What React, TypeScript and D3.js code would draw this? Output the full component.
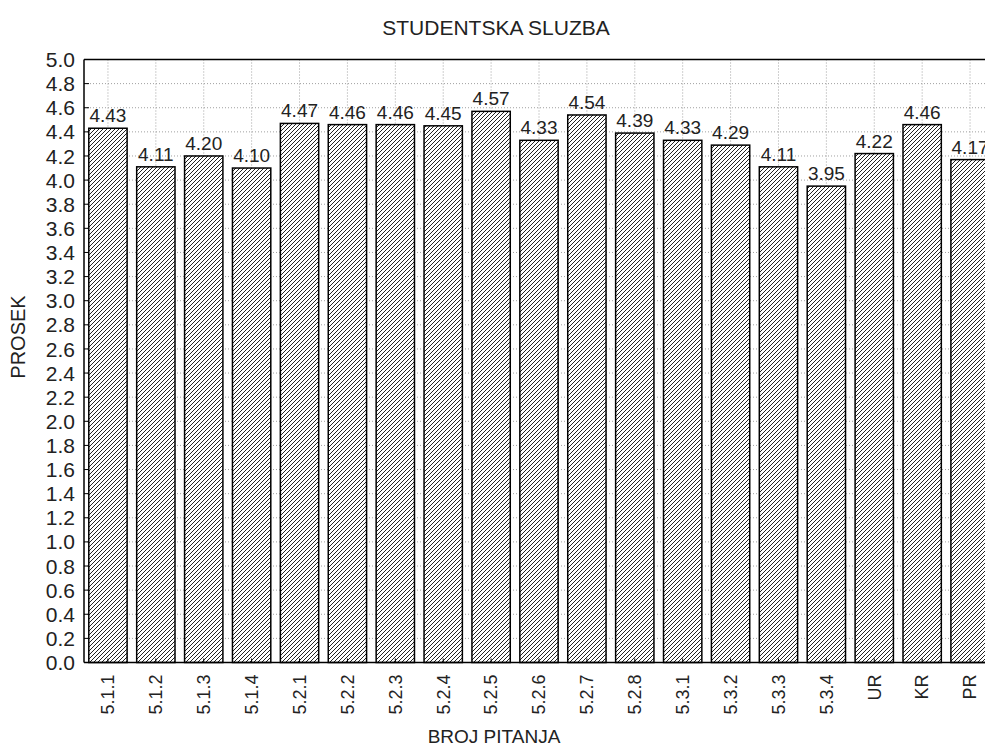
import * as d3 from 'd3';

const WIDTH = 985;
const HEIGHT = 749;
const MARGIN = { top: 59.5, left: 84, bottom: 86.5 };
const PLOT_RIGHT = 994; // plot runs off the right edge of the picture

const categories = ['5.1.1', '5.1.2', '5.1.3', '5.1.4', '5.2.1', '5.2.2', '5.2.3', '5.2.4', '5.2.5', '5.2.6', '5.2.7', '5.2.8', '5.3.1', '5.3.2', '5.3.3', '5.3.4', 'UR', 'KR', 'PR'];
const values = [4.43, 4.11, 4.2, 4.1, 4.47, 4.46, 4.46, 4.45, 4.57, 4.33, 4.54, 4.39, 4.33, 4.29, 4.11, 3.95, 4.22, 4.46, 4.17];
const yTicks = d3.range(0, 26).map((i) => i * 0.2);

const FONT = '"Liberation Sans", Arial, sans-serif';

export default function App() {
  const bottom = HEIGHT - MARGIN.bottom;

  const xScale = d3
    .scaleBand<string>()
    .domain(categories)
    .range([MARGIN.left, PLOT_RIGHT])
    .paddingInner(0.2)
    .paddingOuter(0.1);

  const yScale = d3.scaleLinear().domain([0, 5]).range([bottom, MARGIN.top]);

  const bw = xScale.bandwidth();
  const fmt = d3.format('.2f');

  return (
    <svg
      width={WIDTH}
      height={HEIGHT}
      style={{ position: 'absolute', left: 0, top: 0, background: '#fff' }}
      fontFamily={FONT}
    >
      <defs>
        <pattern id="hatch" patternUnits="userSpaceOnUse" width={4} height={4}>
          <rect width={4} height={4} fill="#fff" />
          <path d="M-1,1 l2,-2 M0,4 l4,-4 M3,5 l2,-2" stroke="#222" strokeWidth={1} />
        </pattern>
      </defs>

      {/* grid */}
      <g stroke="#a0a0a0" strokeWidth={1} strokeDasharray="1,2">
        {yTicks.slice(1, -1).map((t) => (
          <line key={'gy' + t} x1={MARGIN.left} x2={PLOT_RIGHT} y1={yScale(t)} y2={yScale(t)} />
        ))}
        {categories.map((c) => (
          <line
            key={'gx' + c}
            x1={xScale(c)! + bw / 2}
            x2={xScale(c)! + bw / 2}
            y1={MARGIN.top}
            y2={bottom}
          />
        ))}
      </g>

      {/* bars */}
      <g>
        {categories.map((c, i) => (
          <rect
            key={c}
            x={xScale(c)}
            y={yScale(values[i])}
            width={bw}
            height={bottom - yScale(values[i])}
            fill="url(#hatch)"
            stroke="#000"
            strokeWidth={1.5}
          />
        ))}
      </g>

      {/* value labels */}
      <g fontSize={19} fill="#222" textAnchor="middle">
        {categories.map((c, i) => (
          <text key={'v' + c} x={xScale(c)! + bw / 2} y={yScale(values[i]) - 6}>
            {fmt(values[i])}
          </text>
        ))}
      </g>

      {/* frame */}
      <g stroke="#000" strokeWidth={1.5} fill="none">
        <line x1={MARGIN.left} x2={MARGIN.left} y1={MARGIN.top} y2={bottom} />
        <line x1={MARGIN.left} x2={PLOT_RIGHT} y1={MARGIN.top} y2={MARGIN.top} />
        <line x1={MARGIN.left} x2={PLOT_RIGHT} y1={bottom} y2={bottom} />
      </g>

      {/* y ticks */}
      <g>
        {yTicks.map((t) => (
          <g key={'yt' + t} transform={`translate(0,${yScale(t)})`}>
            <line x1={MARGIN.left} x2={MARGIN.left + 5} stroke="#000" strokeWidth={1} />
            <text x={MARGIN.left - 9} dy="0.36em" textAnchor="end" fontSize={21} fill="#222">
              {t.toFixed(1)}
            </text>
          </g>
        ))}
      </g>

      {/* x ticks */}
      <g>
        {categories.map((c) => {
          const cx = xScale(c)! + bw / 2;
          return (
            <g key={'xt' + c}>
              <line x1={cx} x2={cx} y1={bottom} y2={bottom - 4} stroke="#000" strokeWidth={1} />
              <text
                transform={`translate(${cx},${bottom + 12}) rotate(-90)`}
                dy="0.35em"
                textAnchor="end"
                fontSize={18}
                fill="#222"
              >
                {c}
              </text>
            </g>
          );
        })}
      </g>

      {/* titles */}
      <text x={496} y={35} textAnchor="middle" fontSize={21} fill="#222">
        STUDENTSKA SLUZBA
      </text>
      <text x={494} y={743} textAnchor="middle" fontSize={19} fill="#222">
        BROJ PITANJA
      </text>
      <text transform="translate(25,337) rotate(-90)" textAnchor="middle" fontSize={20} fill="#222">
        PROSEK
      </text>
    </svg>
  );
}
